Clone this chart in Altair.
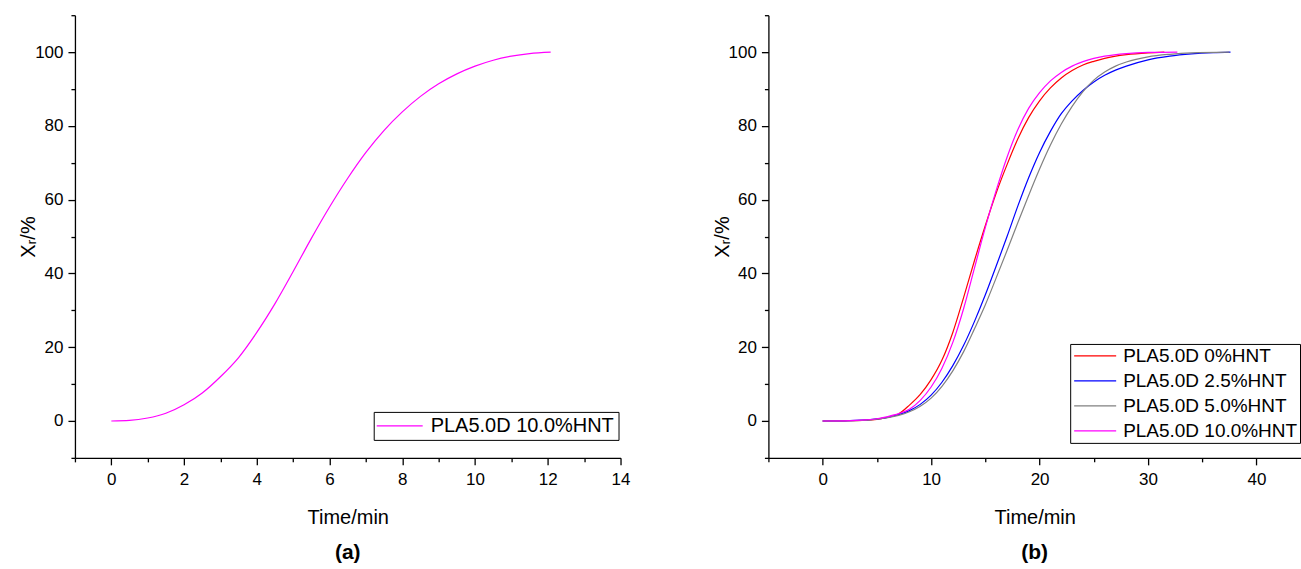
import altair as alt
import pandas as pd

# ---------------- data ----------------
# panel (a): PLA5.0D 10.0%HNT
a_time = [0, 0.5, 1, 1.5, 2, 2.5, 3, 3.5, 4, 4.5, 5, 5.5, 6, 6.5, 7, 7.5, 8, 8.5, 9, 9.5, 10, 10.5, 11, 11.5, 12.08]
a_xr = [0, 0.15, 0.8, 2.1, 4.4, 7.6, 12.0, 17.2, 24.0, 31.8, 40.5, 49.5, 58.0, 65.8, 72.8, 78.8, 83.8, 88.0, 91.4, 94.1, 96.2, 97.8, 98.9, 99.6, 100]

# panel (b)
b0_time = [0, 2, 4, 5, 6, 7, 8, 9, 10, 11, 12, 13, 14, 15, 16, 17, 18, 19, 20, 21, 22, 23, 24, 25, 26, 28, 30, 31.5]
b0_xr = [0, 0.05, 0.2, 0.45, 1.0, 1.9, 4.3, 7.2, 11.2, 16.5, 24.0, 33.5, 43.5, 53.0, 61.8, 69.5, 76.5, 82.3, 86.8, 90.3, 93.0, 95.0, 96.5, 97.5, 98.3, 99.3, 99.8, 100]

b25_time = [0, 2, 4, 5, 6, 7, 8, 9, 10, 11, 12, 13, 14, 15, 16, 17, 18, 19, 20, 21, 22, 23, 24, 25, 26, 27, 28, 30, 32, 34, 36, 37.6]
b25_xr = [0, 0.05, 0.3, 0.55, 1.0, 1.7, 2.8, 4.5, 7.0, 10.5, 15.0, 20.5, 27.0, 34.2, 42.0, 50.0, 58.3, 66.0, 72.8, 78.5, 83.3, 86.8, 89.6, 91.9, 93.7, 95.1, 96.2, 97.9, 98.9, 99.5, 99.85, 100]

b50_time = [0, 2, 4, 5, 6, 7, 8, 9, 10, 11, 12, 13, 14, 15, 16, 17, 18, 19, 20, 21, 22, 23, 24, 25, 26, 27, 28, 30, 32, 34, 37.5]
b50_xr = [0, 0.05, 0.25, 0.5, 0.9, 1.5, 2.5, 4.0, 6.2, 9.4, 13.6, 18.8, 25.0, 31.5, 38.8, 46.2, 53.8, 61.2, 68.3, 74.8, 80.5, 85.3, 89.3, 92.4, 94.6, 96.2, 97.3, 98.7, 99.4, 99.8, 100]

b100_time = [0, 2, 4, 5, 6, 7, 8, 9, 10, 11, 12, 13, 14, 15, 16, 17, 18, 19, 20, 21, 22, 23, 24, 25, 26, 28, 30, 32.7]
b100_xr = [0, 0.05, 0.3, 0.6, 1.2, 2.0, 3.2, 5.6, 9.2, 14.3, 21.3, 30.5, 41.5, 52.5, 62.5, 71.5, 79.0, 84.8, 89.0, 92.2, 94.5, 96.2, 97.4, 98.3, 98.9, 99.6, 99.9, 100]

b_labels = ["PLA5.0D 0%HNT", "PLA5.0D 2.5%HNT", "PLA5.0D 5.0%HNT", "PLA5.0D 10.0%HNT"]
b_colors = ["#ff0000", "#0000ff", "#808080", "#ff00ff"]
a_label = "PLA5.0D 10.0%HNT"
a_color = "#ff00ff"

x_a_ticks = list(range(-1, 15))
x_b_ticks = list(range(-5, 41, 5))
y_ticks = list(range(-10, 111, 10))

FONT = "Liberation Sans"

# ---------------- tables ----------------
dfa = pd.DataFrame({"t": a_time, "X": a_xr, "s": a_label})
parts = []
for lab, tt, xx in zip(b_labels, [b0_time, b25_time, b50_time, b100_time], [b0_xr, b25_xr, b50_xr, b100_xr]):
    parts.append(pd.DataFrame({"t": tt, "X": xx, "s": lab}))
dfb = pd.concat(parts, ignore_index=True)


def y_axis():
    return alt.Axis(
        values=y_ticks,
        labelExpr="datum.value % 20 === 0 ? datum.label : ''",
        tickSize={"condition": {"test": "datum.value % 20 === 0", "value": 7}, "value": 4},
        title="Xᵣ/%",
        titlePadding=-4,
        labelPadding=5,
        labelFlush=False,
    )


def x_axis(vals, major):
    return alt.Axis(
        values=vals,
        labelExpr=f"datum.value % {major} === 0 ? datum.label : ''",
        tickSize={"condition": {"test": f"datum.value % {major} === 0", "value": 7}, "value": 4},
        title="Time/min",
        titlePadding=20,
        labelPadding=7,
        labelFlush=False,
    )


def legend(x, y, font_size, pad, row_pad, path, offset):
    return alt.Legend(
        title=None,
        orient="none",
        legendX=x,
        legendY=y,
        strokeColor="black",
        fillColor="white",
        padding=pad,
        labelFont=FONT,
        labelFontSize=font_size,
        labelColor="black",
        labelLimit=0,
        symbolType=path,
        symbolSize=324,
        symbolStrokeWidth=1.3,
        labelOffset=offset,
        rowPadding=row_pad,
    )


title_kw = dict(orient="bottom", fontSize=21, fontWeight="bold", font=FONT, color="black", offset=14)

left = alt.Chart(dfa).mark_line(strokeWidth=1.2, interpolate="monotone").encode(
    x=alt.X("t:Q", scale=alt.Scale(domain=[-1, 14], nice=False, zero=False), axis=x_axis(x_a_ticks, 2)),
    y=alt.Y("X:Q", scale=alt.Scale(domain=[-10, 110], nice=False, zero=False), axis=y_axis()),
    color=alt.Color("s:N", scale=alt.Scale(domain=[a_label], range=[a_color]),
                    legend=legend(299, 397, 20, 4, 4, "M-1.22,0H3.89", 33)),
).properties(
    width=546, height=443,
    title=alt.TitleParams("(a)", **title_kw),
)

right = alt.Chart(dfb).mark_line(strokeWidth=1.2, interpolate="monotone").encode(
    x=alt.X("t:Q", scale=alt.Scale(domain=[-5, 44.1], nice=False, zero=False), axis=x_axis(x_b_ticks, 10)),
    y=alt.Y("X:Q", scale=alt.Scale(domain=[-10, 110], nice=False, zero=False), axis=y_axis()),
    color=alt.Color("s:N", scale=alt.Scale(domain=b_labels, range=b_colors), sort=b_labels,
                    legend=legend(302, 329, 19, 2, 5, "M-0.89,0H3.78", 31)),
    detail="s:N",
).properties(
    width=533, height=443,
    title=alt.TitleParams("(b)", **title_kw),
)

chart = alt.hconcat(left, right, spacing=81).resolve_scale(
    color="independent", x="independent", y="independent"
).resolve_legend(color="independent").properties(
    padding={"left": 18, "top": 14, "right": 0, "bottom": 0},
    background="white",
).configure_view(stroke=None).configure_axis(
    grid=False,
    domainColor="black",
    domainWidth=1.3,
    tickColor="black",
    tickWidth=1.3,
    labelColor="black",
    labelFont=FONT,
    labelFontSize=17,
    titleColor="black",
    titleFont=FONT,
    titleFontSize=20,
    titleFontWeight="normal",
)

chart.save("out.html", embed_options={"renderer": "svg", "actions": False})
